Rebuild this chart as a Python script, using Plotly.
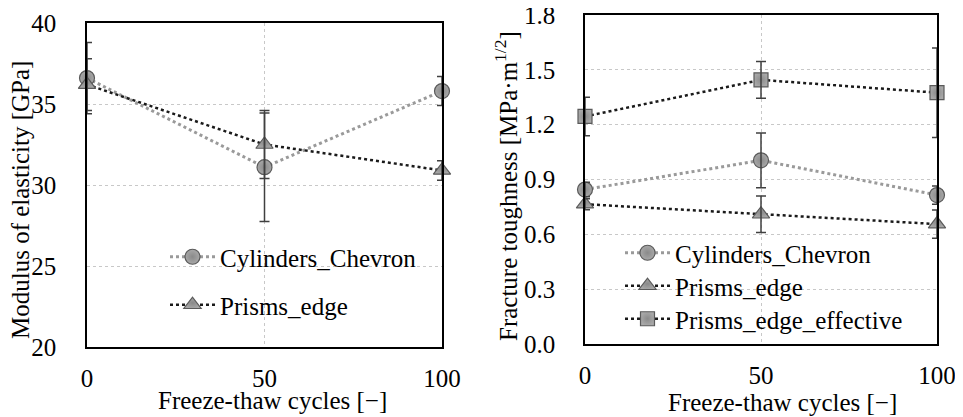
import plotly.graph_objects as go

cycles = [0, 50, 100]

# Left panel: modulus of elasticity [GPa]
E_cyl = [36.6, 31.1, 35.8]
E_cyl_err = [2.2, 3.35, 0.9]
E_pri = [36.2, 32.5, 30.9]
E_pri_err = [1.6, 2.1, 0.6]

# Right panel: fracture toughness [MPa m^1/2]
K_cyl = [0.845, 1.005, 0.815]
K_cyl_err = [0.04, 0.15, 0.05]
K_pri = [0.765, 0.71, 0.656]
K_pri_err = [0.03, 0.10, 0.077]
K_eff = [1.245, 1.445, 1.375]
K_eff_err = [0.105, 0.10, 0.245]

FONT = "Times New Roman, Liberation Serif, DejaVu Serif, serif"
FS = 25
OFF = 8  # page body margin
W, H = 963 - OFF, 417 - OFF

fig = go.Figure()

def px2x(p):
    return (p - OFF) / W

def px2y(p):
    return 1 - (p - OFF) / H

# each entry: axes, name, values, errors, symbol, line colour, width, legend id, legend left px, legend centre px
series = [
    ("x", "y", "Cylinders_Chevron", E_cyl, E_cyl_err, "circle", "#9a9a9a", 3, "legend", 165, 257),
    ("x", "y", "Prisms_edge", E_pri, E_pri_err, "triangle-up", "#1a1a1a", 2.5, "legend2", 165, 305),
    ("x2", "y2", "Cylinders_Chevron", K_cyl, K_cyl_err, "circle", "#9a9a9a", 3, "legend3", 620, 253),
    ("x2", "y2", "Prisms_edge", K_pri, K_pri_err, "triangle-up", "#1a1a1a", 2.5, "legend4", 620, 286),
    ("x2", "y2", "Prisms_edge_effective", K_eff, K_eff_err, "square", "#1a1a1a", 2.5, "legend5", 620, 319),
]

msize = {"circle": 15, "triangle-up": 15, "square": 14}

for xa, ya, name, yv, err, sym, lc, lw, lg, lx, ly in series:
    fig.add_trace(go.Scatter(
        x=cycles, y=yv, name=name, xaxis=xa, yaxis=ya,
        mode="lines+markers",
        line=dict(color=lc, width=lw, dash="dot"),
        marker=dict(symbol=sym, size=msize[sym], color="#a8a8a8",
                    line=dict(color="#5a5a5a", width=1.2),
                    gradient=dict(type="radial", color="#8a8a8a")),
        cliponaxis=False, legend=lg, showlegend=True,
    ))

for xa, ya, name, yv, err, sym, lc, lw, lg, lx, ly in series:
    fig.add_trace(go.Scatter(
        x=cycles, y=yv, xaxis=xa, yaxis=ya, mode="markers",
        marker=dict(size=1, color="rgba(0,0,0,0)"),
        error_y=dict(type="data", array=err, visible=True, color="#404040",
                     thickness=1.5, width=5),
        cliponaxis=True, showlegend=False, hoverinfo="skip",
    ))

axis_common = dict(
    showline=True, linecolor="black", linewidth=1.5, mirror=True,
    showgrid=True, gridcolor="#c8c8c8", griddash="dot", gridwidth=1,
    zeroline=False, ticks="", automargin=False, ticklabeloverflow="allow",
    tickfont=dict(family=FONT, size=FS, color="black"),
)

legends = {}
for xa, ya, name, yv, err, sym, lc, lw, lg, lx, ly in series:
    legends[lg] = dict(x=px2x(lx), y=px2y(ly), xanchor="left", yanchor="middle",
                       bgcolor="rgba(0,0,0,0)", itemwidth=45,
                       font=dict(family=FONT, size=FS, color="black"))

fig.update_layout(
    width=W, height=H,
    margin=dict(l=0, r=0, t=0, b=0, autoexpand=False),
    paper_bgcolor="white", plot_bgcolor="white",
    font=dict(family=FONT, size=FS, color="black"),
    xaxis=dict(domain=[px2x(87), px2x(442)], range=[0, 100], tickvals=[0, 50, 100],
               anchor="y", ticklabelstandoff=8, **axis_common),
    yaxis=dict(domain=[px2y(347), px2y(23)], range=[20, 40], dtick=5,
               anchor="x", ticklabelstandoff=24, **axis_common),
    xaxis2=dict(domain=[px2x(585), px2x(937)], range=[0, 100], tickvals=[0, 50, 100],
                anchor="y2", ticklabelstandoff=8, **axis_common),
    yaxis2=dict(domain=[px2y(344), px2y(15)], range=[0, 1.8], tickvals=[0, 0.3, 0.6, 0.9, 1.2, 1.5, 1.8],
                tickformat=".1f", anchor="x2", ticklabelstandoff=23, **axis_common),
    annotations=[
        dict(text="Freeze-thaw cycles [−]", x=px2x(272), y=px2y(400), xref="paper", yref="paper",
             showarrow=False, xanchor="center", yanchor="middle", font=dict(family=FONT, size=FS)),
        dict(text="Freeze-thaw cycles [−]", x=px2x(782), y=px2y(402), xref="paper", yref="paper",
             showarrow=False, xanchor="center", yanchor="middle", font=dict(family=FONT, size=FS)),
        dict(text="Modulus of elasticity [GPa]", x=px2x(21), y=px2y(200), xref="paper", yref="paper",
             showarrow=False, xanchor="center", yanchor="middle", textangle=-90,
             font=dict(family=FONT, size=FS)),
        dict(text="Fracture toughness [MPa·m<sup>1/2</sup>]", x=px2x(506), y=px2y(186),
             xref="paper", yref="paper", showarrow=False, xanchor="center", yanchor="middle",
             textangle=-90, font=dict(family=FONT, size=FS)),
    ],
)
fig.update_layout(**legends)

fig.write_html("out.html")
